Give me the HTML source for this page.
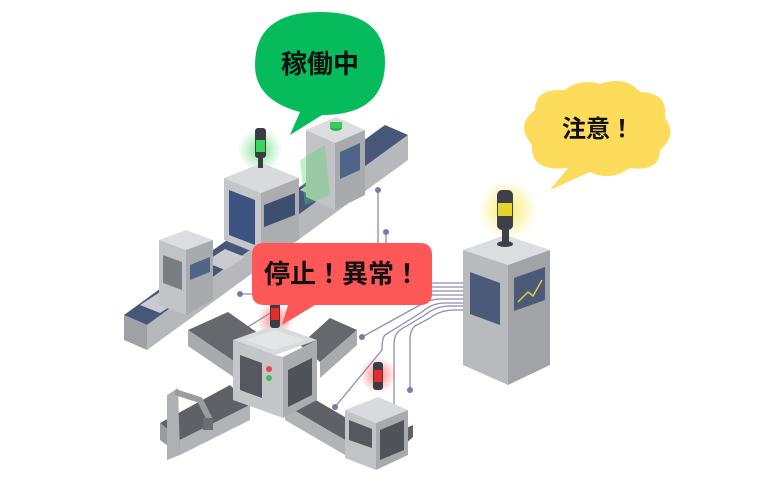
<!DOCTYPE html>
<html><head><meta charset="utf-8"><style>
html,body{margin:0;padding:0;background:#fff;width:783px;height:487px;overflow:hidden}
svg{display:block}
text{font-family:"Liberation Sans","Noto Sans CJK JP",sans-serif;font-weight:bold;fill:#111}
</style></head><body>
<svg width="783" height="487" viewBox="0 0 783 487" xmlns="http://www.w3.org/2000/svg">
<defs>
<radialGradient id="gg"><stop offset="0" stop-color="#4fd46a" stop-opacity=".7"/><stop offset="1" stop-color="#4fd46a" stop-opacity="0"/></radialGradient>
<radialGradient id="yg"><stop offset="0" stop-color="#f5e84a" stop-opacity=".8"/><stop offset="1" stop-color="#f5e84a" stop-opacity="0"/></radialGradient>
<radialGradient id="rg"><stop offset="0" stop-color="#ff4a4a" stop-opacity=".7"/><stop offset="1" stop-color="#ff4a4a" stop-opacity="0"/></radialGradient>
</defs>

<!-- wires -->
<g fill="none" stroke="#8f8cb0" stroke-width="1.3">
<path d="M378,190 V250"/><path d="M386,232 V250"/>
<path d="M240,294 H260"/>
<path d="M235,335 L275,310"/>
<path d="M463,283 H420"/><path d="M463,287 H420"/><path d="M463,291 H420"/><path d="M463,295 H420"/>
<path d="M463,299 H440 Q430,299 420,305 L362,337"/>
<path d="M463,303 H445 Q432,303 422,312 L385,335 Q382,338 382,350 L335,407"/>
<path d="M463,306 H450 Q436,306 425,315 L400,330 Q394,334 394,345 V407"/>
<path d="M463,310 H455 Q440,310 430,318 L415,326 Q410,330 410,340 V390"/>
</g>
<g fill="#7d78a8">
<circle cx="378" cy="190" r="3"/><circle cx="386" cy="232" r="3"/><circle cx="240" cy="294" r="3"/>
<circle cx="235" cy="335" r="3"/><circle cx="362" cy="337" r="3"/><circle cx="335" cy="407" r="3"/>
<circle cx="394" cy="407" r="3"/><circle cx="410" cy="390" r="3"/>
</g>

<!-- upper conveyor -->
<polygon points="124,315 385,125 408,135 147,325" fill="#46577a"/>
<polygon points="147,325 408,135 408,160 147,350" fill="#b7b8bc"/>
<polygon points="124,315 147,325 147,350 124,340" fill="#9fa1a5"/>
<!-- packages -->
<polygon points="140,305 160,292 180,300 160,313" fill="#c9cbd0"/>
<polygon points="205,262 225,249 245,257 225,270" fill="#c9cbd0"/>
<polygon points="300,190 318,178 336,186 318,198" fill="#c9cbd0"/>
<!-- right machine upper -->
<polygon points="306,130 336,117 365,130 335,143" fill="#dcdde0"/>
<polygon points="306,130 335,143 335,210 306,197" fill="#c2c3c6"/>
<polygon points="335,143 365,130 365,195 335,210" fill="#a9aaae"/>
<polygon points="340,152 360,143 360,170 340,179" fill="#4f6588"/>
<ellipse cx="336" cy="128" rx="6" ry="3" fill="#2fb24e"/><rect x="330" y="122" width="12" height="6" fill="#3cc95b"/>
<polygon points="300,160 325,145 330,195 305,205" fill="#4fd46a" opacity=".35"/>
<!-- big machine upper -->
<circle cx="260" cy="150" r="22" fill="url(#gg)"/>
<polygon points="224,178 262,163 299,178 261,193" fill="#d9dadd"/>
<polygon points="224,178 261,193 261,255 224,240" fill="#c5c6c9"/>
<polygon points="261,193 299,178 299,240 261,255" fill="#acadb1"/>
<polygon points="229,190 255,200 255,245 229,235" fill="#3d5382"/>
<polygon points="264,205 295,193 295,215 264,227" fill="#3d4e6e"/>
<rect x="255" y="128" width="11" height="30" rx="3" fill="#3a3d44"/>
<rect x="256" y="140" width="9" height="12" fill="#39d65b"/>
<rect x="258" y="158" width="5" height="10" fill="#3a3d44"/>
<!-- small machine left upper -->
<polygon points="159,240 186,230 213,240 186,250" fill="#dcdde0"/>
<polygon points="159,240 186,250 186,315 159,305" fill="#c2c3c6"/>
<polygon points="186,250 213,240 213,300 186,315" fill="#a9aaae"/>
<polygon points="163,255 182,262 182,290 163,283" fill="#7a7d84"/>
<polygon points="190,265 210,257 210,272 190,280" fill="#4f6588"/>

<!-- lower cross conveyor -->
<polygon points="188,330 228,312 275,345 235,362" fill="#66686d"/>
<polygon points="188,330 235,362 235,378 188,346" fill="#a9aaae"/>
<polygon points="300,345 330,318 357,330 320,362" fill="#66686d"/>
<polygon points="320,362 357,330 357,345 320,378" fill="#a9aaae"/>
<polygon points="160,423 230,385 250,405 180,440" fill="#5f6166"/>
<polygon points="160,423 180,440 180,455 160,440" fill="#9a9ca0"/>
<polygon points="180,440 250,405 250,420 180,455" fill="#b2b3b7"/>
<polygon points="290,385 350,420 345,440 285,405" fill="#5f6166"/>
<polygon points="285,405 345,440 345,455 285,420" fill="#b2b3b7"/>
<polygon points="380,440 413,425 413,437 390,458" fill="#5f6166"/>
<!-- robot -->
<polygon points="167,395 178,388 180,455 167,460" fill="#aeb0b4"/>
<path d="M175,392 L200,400 L210,420" stroke="#9a9ca0" stroke-width="6" fill="none"/>
<rect x="203" y="418" width="10" height="12" fill="#6b6d72"/>
<!-- central machine -->
<circle cx="275" cy="320" r="18" fill="url(#rg)"/>
<polygon points="233,340 275,325 317,340 275,355" fill="#d9dadd"/>
<polygon points="245,340 275,330 305,340 275,350" fill="#e4e5e7"/>
<polygon points="233,340 275,355 283,357 283,418 233,400" fill="#c5c6c9"/>
<polygon points="283,357 317,340 317,400 283,418" fill="#abacb0"/>
<polygon points="240,355 262,363 262,398 240,390" fill="#55585e"/>
<polygon points="288,370 312,358 312,395 288,407" fill="#4f5257"/>
<circle cx="269" cy="369" r="3" fill="#e34a4a"/><circle cx="269" cy="378" r="3" fill="#3dbd5a"/>
<rect x="270" y="300" width="10" height="28" rx="3" fill="#3a3d44"/>
<rect x="271" y="308" width="8" height="12" fill="#e52b2b"/>
<!-- small machine lower right -->
<circle cx="378" cy="375" r="18" fill="url(#rg)"/>
<polygon points="345,410 378,397 408,410 376,423" fill="#d9dadd"/>
<polygon points="345,410 376,423 376,470 345,458" fill="#c2c3c6"/>
<polygon points="376,423 408,410 408,455 376,470" fill="#a9aaae"/>
<polygon points="349,420 372,429 372,448 349,440" fill="#55585e"/>
<polygon points="380,430 404,420 404,450 380,460" fill="#4f5257"/>
<rect x="373" y="362" width="10" height="28" rx="3" fill="#3a3d44"/>
<rect x="374" y="370" width="8" height="12" fill="#e52b2b"/>

<!-- right cabinet -->
<circle cx="508" cy="210" r="30" fill="url(#yg)"/>
<polygon points="463,250 505,235 550,250 508,265" fill="#dcdde0"/>
<polygon points="463,250 508,265 508,385 463,365" fill="#b9babd"/>
<polygon points="508,265 550,250 550,365 508,385" fill="#a2a3a7"/>
<polygon points="470,272 500,283 500,325 470,314" fill="#4a5a78"/>
<polygon points="514,278 545,267 545,300 514,311" fill="#4a5a78"/>
<path d="M518,302 L528,292 L533,296 L542,280" stroke="#e6c93a" fill="none" stroke-width="1.5"/>
<rect x="497" y="190" width="16" height="40" rx="5" fill="#3d4046"/>
<rect x="498" y="203" width="14" height="13" fill="#e4d52a"/>
<rect x="502" y="230" width="7" height="14" fill="#3d4046"/>
<ellipse cx="505" cy="244" rx="8" ry="3" fill="#3d4046"/>

<!-- green bubble -->
<path d="M290,135 L300,112 Q255,100 255,65 Q255,12 320,12 Q385,12 385,62 Q385,115 322,115 Z" fill="#05bb5c"/>
<text x="320" y="73" font-size="26" text-anchor="middle">稼働中</text>

<!-- yellow cloud -->
<path d="M550,190 L568,168 Q530,172 532,145 Q515,125 535,110 Q535,88 565,90 Q580,78 600,84 Q625,75 640,92 Q668,92 665,118 Q678,135 660,150 Q660,172 630,168 Q610,182 590,172 Z" fill="#fddc5c"/>
<text x="598" y="137" font-size="24" text-anchor="middle">注意！</text>

<!-- red bubble -->
<path d="M264,243 H420 Q432,243 432,255 V293 Q432,305 420,305 H315 L282,325 L288,305 H264 Q252,305 252,293 V255 Q252,243 264,243 Z" fill="#fe5757"/>
<text x="342" y="283" font-size="26" text-anchor="middle">停止！異常！</text>
</svg>
</body></html>
